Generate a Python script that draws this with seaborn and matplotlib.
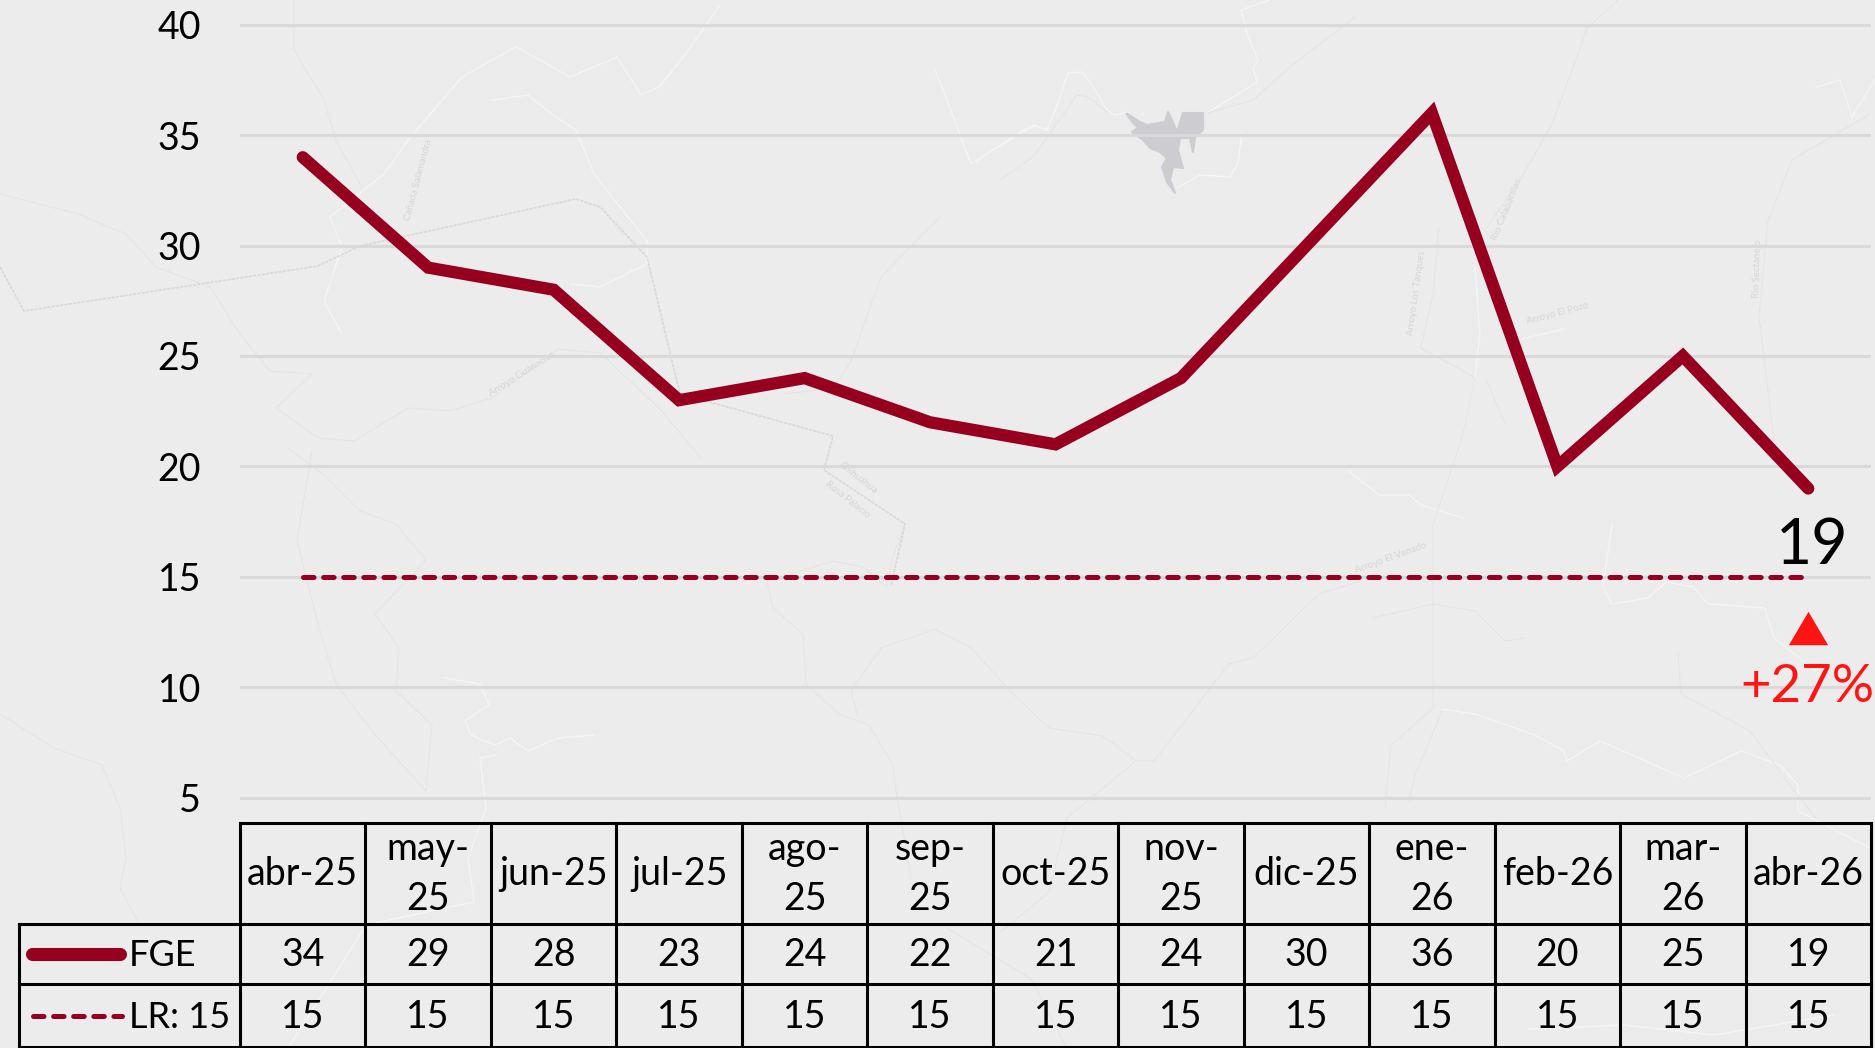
import numpy as np
import pandas as pd
import matplotlib
matplotlib.use("Agg")
import matplotlib.pyplot as plt
import seaborn as sns

# chart data
months = ["abr-25", "may-25", "jun-25", "jul-25", "ago-25", "sep-25", "oct-25",
          "nov-25", "dic-25", "ene-26", "feb-26", "mar-26", "abr-26"]
fge = [34, 29, 28, 23, 24, 22, 21, 24, 30, 36, 20, 25, 19]
lr = [15] * 13
wrapped_months = ["may-25", "ago-25", "sep-25", "nov-25", "ene-26", "mar-26"]
y_ticks = [5, 10, 15, 20, 25, 30, 35, 40]
last_label = "19"
change_label = "+27%"

# faint map behind the chart, traced in image pixels
map_road = [(0, 267), (24, 311), (318, 266), (360, 246), (576, 199), (600, 207), (647, 257),
            (680, 394), (833, 436), (824, 470), (905, 524), (891, 586)]
map_lake = [(1126, 113), (1140, 122), (1147, 125), (1165, 122), (1168, 112), (1172, 120), (1177, 132),
            (1183, 113), (1203, 113), (1203, 130), (1195, 137), (1193, 152), (1190, 138), (1180, 138),
            (1178, 150), (1183, 168), (1173, 167), (1170, 180), (1175, 193), (1167, 182), (1162, 167),
            (1167, 158), (1160, 152), (1150, 148), (1143, 140), (1132, 132), (1138, 128), (1133, 123)]
map_white = [
    [(1000, 147), (1020, 132), (1033, 125), (1047, 130), (1058, 103), (1068, 73), (1082, 72), (1092, 85),
     (1107, 110), (1115, 115), (1127, 112)],
    [(1207, 113), (1233, 97), (1257, 82), (1253, 68), (1258, 60), (1247, 33), (1241, 10), (1270, 0)],
    [(1242, 132), (1238, 163), (1230, 177), (1200, 175), (1177, 188)],
    [(1816, 87), (1840, 80), (1852, 117), (1875, 79)],
    [(1475, 267), (1480, 334), (1475, 378), (1463, 434)],
    [(1564, 329), (1522, 339)],
    [(1349, 471), (1379, 495), (1409, 495), (1421, 505), (1463, 518)],
    [(935, 70), (947, 100), (971, 164), (1013, 137), (1037, 125)],
    [(462, 77), (408, 140), (384, 174), (330, 217), (342, 247), (324, 301), (342, 334)],
    [(719, 7), (683, 57), (659, 87), (641, 95), (617, 57), (570, 77), (516, 47), (462, 77)],
    [(492, 100), (528, 95), (552, 114), (576, 130), (594, 174), (647, 241), (647, 264), (600, 287), (570, 284)],
    [(444, 678), (480, 684), (489, 705), (465, 721), (471, 735), (495, 745), (510, 738), (528, 751),
     (558, 738), (594, 735)],
    [(495, 755), (480, 758), (486, 808), (468, 858), (474, 902), (366, 925), (324, 992), (288, 1048)],
    [(1442, 709), (1475, 714), (1535, 735), (1564, 751), (1567, 761), (1600, 741), (1684, 778), (1741, 751),
     (1780, 765), (1798, 785), (1798, 811), (1870, 848)],
    [(1612, 524), (1603, 587), (1612, 604), (1648, 598), (1666, 582), (1693, 587), (1708, 604), (1765, 608),
     (1774, 638), (1816, 671)],
    [(1529, 1029), (1624, 1025), (1714, 1035), (1834, 1015)],
]
map_grey = [
    [(1000, 180), (1033, 157), (1077, 95), (1088, 97), (1107, 112)],
    [(1207, 113), (1253, 100), (1290, 67), (1355, 17)],
    [(1618, 0), (1588, 27), (1552, 124), (1522, 177), (1487, 227)],
    [(1870, 114), (1792, 160), (1768, 221), (1759, 317), (1774, 441)],
    [(1439, 227), (1433, 294), (1421, 348), (1463, 371), (1475, 378), (1463, 434), (1433, 524), (1433, 708)],
    [(1487, 381), (1505, 424)],
    [(294, 0), (294, 50), (324, 100), (336, 140), (360, 184)],
    [(0, 194), (78, 214), (126, 234), (156, 267), (210, 287), (240, 334), (270, 371), (312, 374), (276, 408),
     (318, 438), (354, 441), (408, 408), (450, 411), (492, 398), (558, 349), (600, 353), (659, 408), (701, 458)],
    [(940, 217), (881, 277), (851, 361), (833, 388), (785, 394)],
    [(288, 448), (324, 475), (360, 511), (396, 524), (426, 560), (375, 614), (399, 648), (396, 691), (432, 725),
     (426, 791), (372, 731), (336, 684), (318, 624), (297, 541), (312, 450)],
    [(0, 714), (54, 748), (102, 765), (120, 808), (126, 858), (120, 888), (138, 922)],
    [(767, 581), (773, 608), (803, 634), (806, 684), (839, 714), (869, 725), (893, 765), (896, 791), (911, 878)],
    [(767, 581), (833, 561), (863, 567), (887, 587), (893, 557), (905, 524)],
    [(935, 629), (881, 648), (851, 691), (857, 714)],
    [(935, 629), (971, 648), (1013, 694), (1049, 728), (1103, 736), (1136, 761), (1079, 808), (1067, 818),
     (1049, 892), (1001, 932)],
    [(1136, 761), (1154, 761), (1229, 664), (1253, 658), (1319, 594), (1361, 581)],
    [(1433, 708), (1391, 745), (1385, 808)],
    [(1442, 711), (1415, 775), (1409, 801)],
    [(1678, 654), (1681, 694), (1750, 731), (1792, 788), (1816, 818)],
    [(1373, 618), (1433, 604), (1475, 611), (1505, 641), (1525, 638)],
    [(947, 928), (1031, 979), (1067, 1048)],
]
map_labels = [("Arroyo Guanacito", 522, 374, 32), ("Cañada Salamandra", 418, 180, 75),
              ("Chihuahua", 858, 478, -38), ("Rosa Palacio", 848, 500, -38),
              ("Arroyo Los Tanques", 1417, 293, 82), ("Río Calabacillas", 1507, 209, 68),
              ("Arroyo El Pozo", 1558, 313, 15), ("Río Sectanejo", 1758, 269, 88),
              ("Arroyo El Venado", 1391, 558, 20)]

# colours
bg_color = "#ECECEC"
line_color = "#96001E"
grid_color = "#D9D9D9"
red = "#FF1414"

# layout in image pixels
W, H = 1875, 1048
left, right = 240, 1871
table_left, table_top = 18.5, 822.5
row_lines = [822.5, 923.5, 984, 1047]
y5_px, unit_px = 797.8, 22.09
col_w = (right - left) / 13

sns.set_theme(style="white")
plt.rcParams["font.family"] = ["Lato", "DejaVu Sans"]
font_size = 27
dash_pattern = (0, (2.1, 1.92))

df = pd.DataFrame({"month": months, "FGE": fge, "LR": lr})

fig = plt.figure(figsize=(W / 100, H / 100), dpi=100, facecolor=bg_color)

# background map
map_ax = fig.add_axes([0, 0, 1, 1], zorder=0)
map_ax.set_xlim(0, W)
map_ax.set_ylim(H, 0)
map_ax.axis("off")
for trace in map_white:
    map_ax.plot(*zip(*trace), color="#F5F5F5", lw=1.0, solid_joinstyle="round")
for trace in map_grey:
    map_ax.plot(*zip(*trace), color="#E4E4E4", lw=0.7, solid_joinstyle="round")
map_ax.plot(*zip(*map_road), color="#D9D9D9", lw=1.2, ls=(0, (2, 0.6)))
map_ax.fill(*zip(*map_lake), facecolor="#CDCDD1", edgecolor="#CDCDD1", lw=1.5, joinstyle="round")
for name, x, y, rot in map_labels:
    map_ax.text(x, y, name, fontsize=7, color="#D6D6D6", rotation=rot, ha="center", va="center")

# line chart, y limits chosen so the ticks land on the reference pixels
ax = fig.add_axes([left / W, 1 - table_top / H, (right - left) / W, table_top / H], zorder=1)
ax.patch.set_alpha(0)
sns.lineplot(data=df, x="month", y="LR", color=line_color, linewidth=3.6, ax=ax, zorder=3,
             linestyle=dash_pattern, dash_capstyle="round")
sns.lineplot(data=df, x="month", y="FGE", color=line_color, linewidth=8.8, ax=ax, zorder=4,
             solid_capstyle="round", solid_joinstyle="miter")
ax.set_xlim(-0.5, 12.5)
ax.set_ylim(5 - (table_top - y5_px) / unit_px, 5 + y5_px / unit_px)
ax.set_yticks(y_ticks)
ax.set_xticks([])
ax.set_xlabel("")
ax.set_ylabel("")
ax.tick_params(axis="y", length=0, pad=28, labelsize=font_size, labelcolor="black")
ax.grid(axis="y", color=grid_color, linewidth=2.2)
ax.set_axisbelow(True)
sns.despine(ax=ax, left=True, bottom=True, top=True, right=True)

# last point callout
ax.text(12.03, 16.4, last_label, fontsize=45, color="black", ha="center", va="center", zorder=5)
triangle = [(-1, -0.85), (1, -0.85), (0, 0.85)]
sns.scatterplot(x=[12], y=[12.68], marker=triangle, s=800, color=red, linewidth=0, ax=ax, zorder=5)
ax.text(11.99, 10.0, change_label, fontsize=38, color=red, ha="center", va="center", zorder=5)

# data table under the chart, columns share the chart's x positions
tab = fig.add_axes([table_left / W, 0, (right - table_left) / W, (H - table_top) / H], zorder=2)
tab.patch.set_alpha(0)
tab.set_xlim(-0.5 - (left - table_left) / col_w, 12.5)
tab.set_ylim(H, table_top)
tab.axis("off")
edge = dict(color="black", lw=2.2, clip_on=False, solid_capstyle="projecting")
x0 = tab.get_xlim()[0]
tab.plot([-0.5, 12.5], [row_lines[0]] * 2, **edge)
for y in row_lines[1:]:
    tab.plot([x0, 12.5], [y, y], **edge)
tab.plot([x0, x0], [row_lines[1], row_lines[3]], **edge)
for i in range(14):
    tab.plot([i - 0.5, i - 0.5], [row_lines[0], row_lines[3]], **edge)

for i, month in enumerate(months):
    label = month.replace("-", "-\n") if month in wrapped_months else month
    tab.text(i, (row_lines[0] + row_lines[1]) / 2 + 1, label, fontsize=font_size, ha="center", va="center",
             color="black", linespacing=1.5)
    tab.text(i, (row_lines[1] + row_lines[2]) / 2 + 1.5, str(fge[i]), fontsize=font_size, ha="center",
             va="center", color="black")
    tab.text(i, (row_lines[2] + row_lines[3]) / 2 + 2, str(lr[i]), fontsize=font_size, ha="center",
             va="center", color="black")

# legend keys inside the row labels
def px_x(p):
    return x0 + (p - table_left) / col_w

tab.plot([px_x(32), px_x(120)], [954, 954], color=line_color, lw=9.4, solid_capstyle="round")
tab.plot([px_x(33), px_x(122)], [1016, 1016], color=line_color, lw=3.6, ls=dash_pattern,
         dash_capstyle="round")
tab.text(px_x(129), 956, "FGE", fontsize=26, ha="left", va="center", color="black")
tab.text(px_x(129), 1018, "LR: 15", fontsize=26, ha="left", va="center", color="black")

fig.savefig("out.png", dpi=100, facecolor=bg_color)
